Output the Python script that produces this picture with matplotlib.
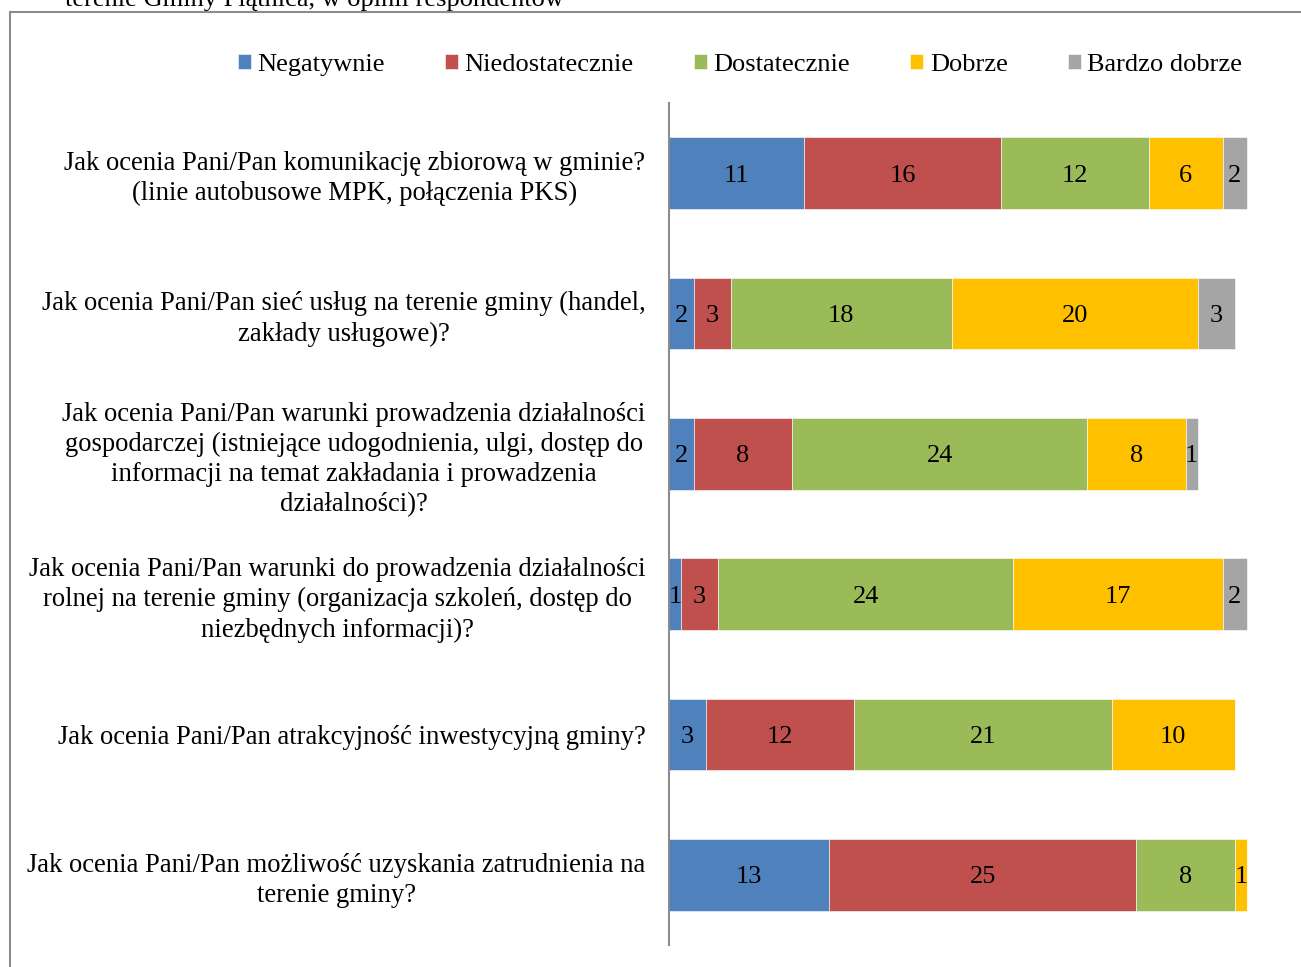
import matplotlib.pyplot as plt
import matplotlib.patches as mpatches
import numpy as np

# -----------------
# Data
# -----------------

questions = [
    "Jak ocenia Pani/Pan komunikację zbiorową w gminie?\n(linie autobusowe MPK, połączenia PKS)",
    "Jak ocenia Pani/Pan sieć usług na terenie gminy (handel,\nzakłady usługowe)?",
    "Jak ocenia Pani/Pan warunki prowadzenia działalności\ngospodarczej (istniejące udogodnienia, ulgi, dostęp do\ninformacji na temat zakładania i prowadzenia\ndziałalności)?",
    "Jak ocenia Pani/Pan warunki do prowadzenia działalności\nrolnej na terenie gminy (organizacja szkoleń, dostęp do\nniezbędnych informacji)?",
    "Jak ocenia Pani/Pan atrakcyjność inwestycyjną gminy?",
    "Jak ocenia Pani/Pan możliwość uzyskania zatrudnienia na\nterenie gminy?",
]

series_names = ["Negatywnie", "Niedostatecznie", "Dostatecznie", "Dobrze", "Bardzo dobrze"]
negatywnie = [11, 2, 2, 1, 3, 13]
niedostatecznie = [16, 3, 8, 3, 12, 25]
dostatecznie = [12, 18, 24, 24, 21, 8]
dobrze = [6, 20, 8, 17, 10, 1]
bardzo_dobrze = [2, 3, 1, 2, 0, 0]

colors = ["#4F81BD", "#C0504D", "#9BBB59", "#FFC000", "#A5A5A5"]

# -----------------
# Plot
# -----------------

plt.rcParams['font.family'] = ['Liberation Serif', 'DejaVu Serif']

fig = plt.figure(figsize=(13.01, 9.67), dpi=100)
W, H = 1301, 967
ax = fig.add_axes([669 / W, 1 - 945 / H, 615 / W, 842 / H])

y = np.arange(len(questions))
left = np.zeros(len(questions))
all_series = [negatywnie, niedostatecznie, dostatecznie, dobrze, bardzo_dobrze]

for name, vals, col in zip(series_names, all_series, colors):
    vals = np.array(vals, dtype=float)
    bars = ax.barh(y, vals, left=left, height=0.51, color=col, label=name,
                   edgecolor='white', linewidth=0.4)
    for b, v in zip(bars, vals):
        if v > 0:
            ax.text(b.get_x() + b.get_width() / 2, b.get_y() + b.get_height() / 2,
                    f"{int(v)}", ha='center', va='center_baseline', fontsize=19, color='black')
    left += vals

ax.set_xlim(0, 50)
ax.set_ylim(len(questions) - 0.5, -0.5)
ax.set_xticks([])
ax.set_yticks(y)
ax.set_yticklabels(questions, fontsize=19.2, linespacing=1.27)
for lbl in ax.get_yticklabels():
    lbl.set_multialignment('center')
ax.tick_params(axis='y', length=0, pad=17)

for s in ['top', 'right', 'bottom']:
    ax.spines[s].set_visible(False)
ax.spines['left'].set_color('#8C8C8C')
ax.spines['left'].set_linewidth(1.5)

# Legend across the top
fig.legend(loc='center', bbox_to_anchor=(740 / W, 1 - 65 / H), ncol=5, frameon=False,
           fontsize=19, handlelength=0.5, handleheight=0.5, handletextpad=0.25,
           columnspacing=2.27)

# Chart frame (runs off the right and bottom of the picture)
frame = mpatches.Rectangle((10 / W, -0.05), 1.1, 1 - 12 / H + 0.05, transform=fig.transFigure,
                           fill=False, edgecolor='#8C8C8C', linewidth=1.5, clip_on=False)
fig.patches.append(frame)

# Caption line above the frame, cut off at the top edge as in the source
fig.text(65 / W, 1 - 6 / H, "terenie Gminy Piątnica, w opinii respondentów",
         fontsize=19, ha='left', va='baseline')

fig.savefig('out.png', dpi=100)
